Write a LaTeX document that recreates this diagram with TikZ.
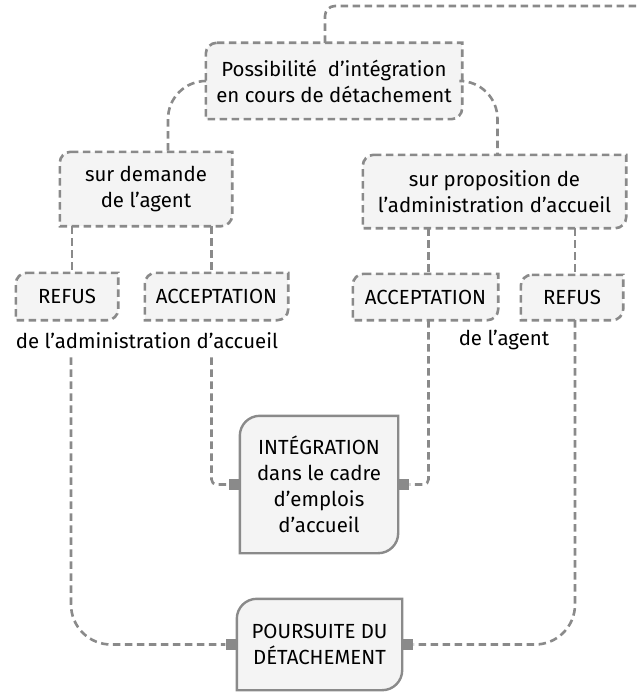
\documentclass[tikz,border=0pt]{standalone}
\usepackage{fontspec}
\setmainfont{Fira Sans}
\usetikzlibrary{backgrounds}
\definecolor{gris}{HTML}{8A8A8A}
\definecolor{fond}{HTML}{F4F4F4}
\tikzset{
  lien/.style={gris, line width=2.6bp, dash pattern=on 7.5bp off 4.5bp},
  boite/.style={lien, fill=fond},
  bloc/.style={fill=fond, draw=gris, line width=2.4bp},
  etiquette/.style={inner sep=0pt, align=center, font=\fontsize{20.5}{26}\selectfont},
  port/.style={fill=gris, minimum size=11bp, inner sep=0pt}
}
% frame with rounded top left and bottom right corners
\newcommand\tracecadre[3]{%
  \draw[#1] ([xshift=#3]#2.north west) -- (#2.north east) -- ([yshift=#3]#2.south east)
     arc[start angle=0, end angle=-90, radius=#3] -- (#2.south west) -- ([yshift=-#3]#2.north west)
     arc[start angle=180, end angle=90, radius=#3] -- cycle;}
\begin{document}
\begin{tikzpicture}[x=1bp, y=1bp]
        \useasboundingbox (0,0) rectangle (637,-697);
        \node[etiquette, minimum width=256bp, minimum height=76bp] (poss) at (334,-81)
            {Possibilité~ d’intégration\\en cours de détachement};
        \node[etiquette, minimum width=172bp, minimum height=74bp] (demande) at (146,-189)
            {sur demande\\de l’agent};
        \node[etiquette, minimum width=263bp, minimum height=73bp] (propo) at (494.5,-191.5)
            {sur proposition de\\l’administration d’accueil};
        \node[etiquette, minimum width=102bp, minimum height=47bp] (refusG) at (67,-296.5) {REFUS};
        \node[etiquette, minimum width=143bp, minimum height=47bp] (accG) at (216.5,-296.5) {ACCEPTATION};
        \node[etiquette, minimum width=145bp, minimum height=46bp] (accD) at (425.5,-297) {ACCEPTATION};
        \node[etiquette, minimum width=102bp, minimum height=45bp] (refusD) at (572,-297.5) {REFUS};
        \node[etiquette] (texteG) at (147,-341) {de l’administration d’accueil};
        \node[etiquette] (texteD) at (504,-340) {de l’agent};
        \node[etiquette, minimum width=158bp, minimum height=137bp] (integ) at (319,-484.5)
            {INTÉGRATION\\dans le cadre\\d’emplois\\d’accueil};
        \node[etiquette, minimum width=165bp, minimum height=91bp] (pours) at (319.5,-644.5)
            {POURSUITE DU\\DÉTACHEMENT};
        \node[port, anchor=east] (iG) at (integ.west) {};
        \node[port, anchor=west] (iD) at (integ.east) {};
        \node[port, anchor=east] (pG) at (pours.west) {};
        \node[port, anchor=west] (pD) at (pours.east) {};
        \coordinate (sortie) at (650,-6);
        % connectors
        \draw[lien, rounded corners=10bp] ([xshift=-9bp]poss.north) |- (sortie);
        \draw[lien, rounded corners=38bp] (poss.west) -| ([xshift=22bp]demande.north);
        \draw[lien, rounded corners=38bp] (poss.east) -| ([xshift=3bp]propo.north);
        \draw[lien] ([xshift=5bp]demande.south -| refusG.north) -- ([xshift=5bp]refusG.north);
        \draw[lien] ([xshift=-5bp]demande.south -| accG.north) -- ([xshift=-5bp]accG.north);
        \draw[lien] ([xshift=3bp]propo.south -| accD.north) -- ([xshift=3bp]accD.north);
        \draw[lien] ([xshift=3bp]propo.south -| refusD.north) -- ([xshift=3bp]refusD.north);
        \draw[lien, rounded corners=40bp] ([xshift=4bp, yshift=-8bp]refusG.south |- texteG.south) |- (pG.west);
        \draw[lien, rounded corners=5bp] ([xshift=-5bp, yshift=-8bp]accG.south |- texteG.south) |- (iG.west);
        \draw[lien, rounded corners=5bp] ([xshift=3bp]accD.south) |- (iD.east);
        \draw[lien, rounded corners=40bp] ([xshift=3bp]refusD.south) |- (pD.east);
        \begin{pgfonlayer}{background}
            \foreach \n in {poss,demande,propo,refusG,accG,accD,refusD}
                {\tracecadre{boite}{\n}{11bp}}
            \foreach \n in {integ,pours}
                {\tracecadre{bloc}{\n}{20bp}}
        \end{pgfonlayer}
\end{tikzpicture}
\end{document}
